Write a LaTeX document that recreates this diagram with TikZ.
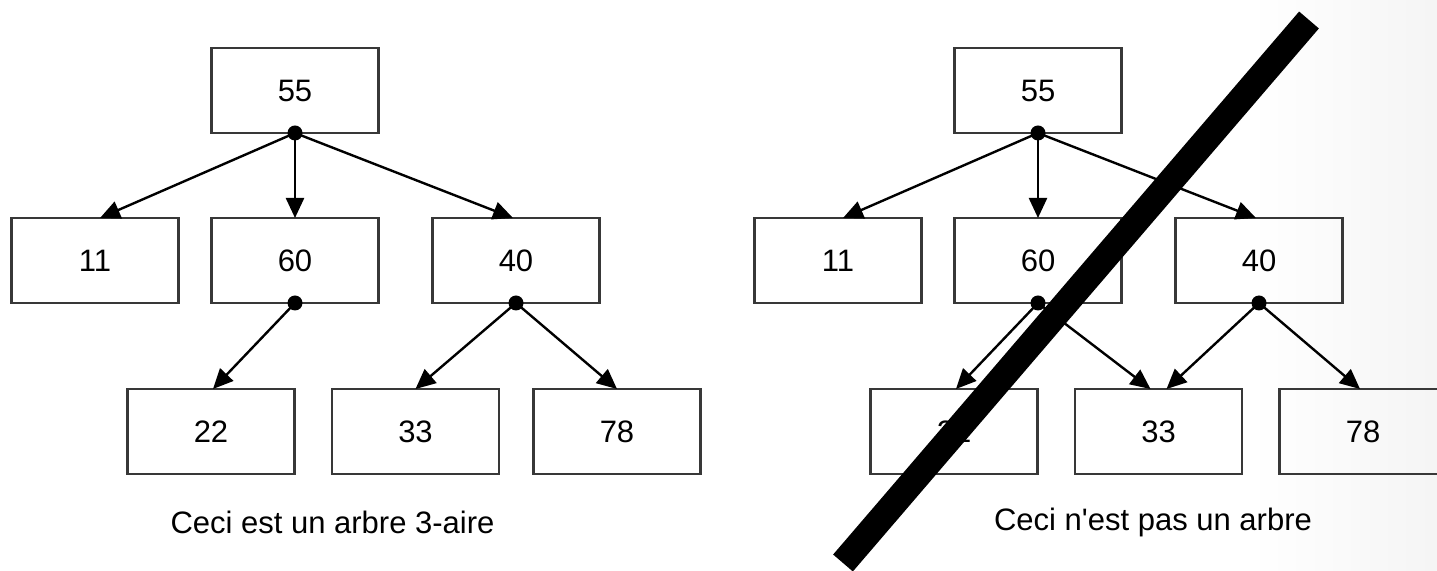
\documentclass[tikz,border=0pt]{standalone}
\usepackage{fontspec}
\setmainfont{Liberation Sans}
\usetikzlibrary{arrows.meta}
\begin{document}
\begin{tikzpicture}[x=0.5pt,y=-0.5pt,
  valbox/.style={draw=black!78, line width=1.3pt, minimum width=83.5pt, minimum height=42.5pt,
    inner sep=0pt, outer sep=0pt, font=\fontsize{15.5}{18}\selectfont},
  caption/.style={font=\fontsize{15.5}{18}\selectfont, inner sep=0pt},
  edge/.style={line width=1.2pt, -{Triangle[length=10pt,width=9pt]}},
  junction/.style={circle, fill=black, inner sep=0pt, minimum size=7.5pt}]
\useasboundingbox (0,0) rectangle (1437,571);
\shade[left color=white, right color=black!4] (1250,0) rectangle (1437,571);
% left tree
\node[valbox] (L55) at (295,90.5) {55};
\node[valbox] (L11) at (95,260.5) {11};
\node[valbox] (L60) at (295,260.5) {60};
\node[valbox] (L40) at (516,260.5) {40};
\node[valbox] (L22) at (211,431.5) {22};
\node[valbox] (L33) at (415.5,431.5) {33};
\node[valbox] (L78) at (617,431.5) {78};
\draw[edge] (L55.south) -- ([xshift=2.5pt]L11.north);
\draw[edge] (L55.south) -- (L60.north);
\draw[edge] (L55.south) -- ([xshift=-1.5pt]L40.north);
\draw[edge] (L60.south) -- ([xshift=1pt]L22.north);
\draw[edge] (L40.south) -- (L33.north);
\draw[edge] (L40.south) -- (L78.north);
\node[junction] (jL55) at (L55.south) {};
\node[junction] (jL60) at (L60.south) {};
\node[junction] (jL40) at (L40.south) {};
\node[caption] (capL) at (332.5,522) {Ceci est un arbre 3-aire};
% right tree
\node[valbox] (R55) at (1038,90.5) {55};
\node[valbox] (R11) at (838,260.5) {11};
\node[valbox] (R60) at (1038,260.5) {60};
\node[valbox] (R40) at (1259,260.5) {40};
\node[valbox] (R22) at (954,431.5) {22};
\node[valbox] (R33) at (1158.5,431.5) {33};
\node[valbox] (R78) at (1363,431.5) {78};
\draw[edge] (R55.south) -- ([xshift=2.5pt]R11.north);
\draw[edge] (R55.south) -- (R60.north);
\draw[edge] (R55.south) -- ([xshift=-1.5pt]R40.north);
\draw[edge] (R60.south) -- ([xshift=1pt]R22.north);
\draw[edge] (R60.south) -- ([xshift=-4pt]R33.north);
\draw[edge] (R40.south) -- ([xshift=4pt]R33.north);
\draw[edge] (R40.south) -- ([xshift=-1.5pt]R78.north);
\node[junction] (jR55) at (R55.south) {};
\node[junction] (jR60) at (R60.south) {};
\node[junction] (jR40) at (R40.south) {};
\node[caption] (capR) at (1153,522) {Ceci n\textquotesingle est pas un arbre};
% strike-through bar
\coordinate (sA) at (843,563);
\coordinate (sB) at (1309,20);
\draw[line width=13pt, line cap=butt] (sA) -- (sB);
\end{tikzpicture}
\end{document}
